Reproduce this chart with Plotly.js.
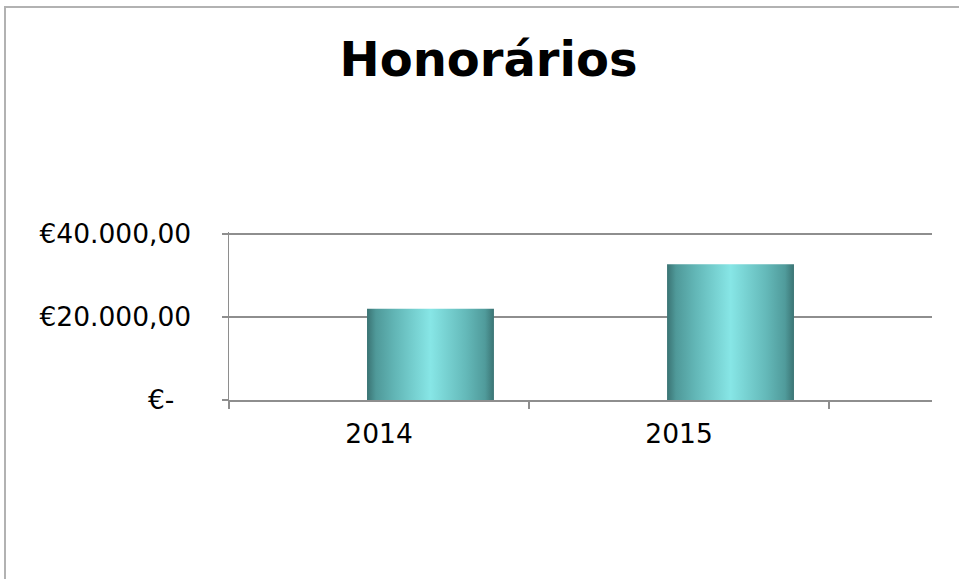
<!DOCTYPE html>
<html>
<head>
<meta charset="utf-8">
<script src="https://cdn.plot.ly/plotly-3.0.1.min.js"></script>
<style>
  html, body { margin: 0; padding: 0; background: #ffffff; overflow: hidden; }
  #wrap { position: relative; width: 959px; height: 579px; }
  #chart { position: absolute; left: 0; top: 0; width: 959px; height: 579px; }
  #frame { position: absolute; left: 4px; top: 6px; width: 1200px; height: 1200px;
           border-left: 2px solid #b2b2b2; border-top: 2px solid #b2b2b2; pointer-events: none; }
</style>
</head>
<body>
<div id="wrap">
  <div id="chart"></div>
  <div id="frame"></div>
</div>
<script>
// ---- data ----
const categories = ["2014", "2015"];
const honorarios = [22000, 32700];
const yTickValues = [0, 20000, 40000];
const yTickLabels = ["€-\u00a0\u00a0", "€20.000,00", "€40.000,00"];
const chartTitle = "Honorários";

const gridColor = "#8e8e8e";

const trace = {
  type: "bar",
  x: categories,
  y: honorarios,
  width: 0.423,
  offset: -0.04,
  marker: { color: "#62b8b8", line: { width: 0 } },
  hoverinfo: "skip"
};

const layout = {
  width: 959,
  height: 579,
  margin: { l: 229, r: 27, t: 232, b: 179 },
  paper_bgcolor: "#ffffff",
  plot_bgcolor: "#ffffff",
  showlegend: false,
  font: { family: "DejaVu Sans, Verdana, sans-serif", color: "#000000" },
  title: {
    text: "<b>" + chartTitle + "</b>",
    font: { family: "DejaVu Sans, Verdana, sans-serif", size: 48, color: "#000000" },
    xref: "container", x: 488.5 / 959, xanchor: "center",
    yref: "container", y: 1 - 59.5 / 579, yanchor: "middle"
  },
  xaxis: {
    type: "category",
    range: [-0.5, 1.843],
    showgrid: false,
    zeroline: false,
    showline: true,
    linecolor: gridColor,
    linewidth: 1.5,
    ticks: "outside",
    tickson: "boundaries",
    ticklen: 7,
    tickwidth: 1.2,
    tickcolor: gridColor,
    tickfont: { size: 26.5, color: "#000000" },
    ticklabelstandoff: 10,
    fixedrange: true
  },
  yaxis: {
    range: [0, 40480],
    tickvals: yTickValues,
    ticktext: yTickLabels,
    showgrid: true,
    gridcolor: gridColor,
    gridwidth: 1.5,
    zeroline: false,
    showline: true,
    linecolor: gridColor,
    linewidth: 1.5,
    ticks: "outside",
    ticklen: 6,
    tickwidth: 1.2,
    tickcolor: gridColor,
    tickfont: { size: 26.5, color: "#000000" },
    ticklabelstandoff: 25,
    fixedrange: true
  }
};

Plotly.newPlot("chart", [trace], layout, { staticPlot: true, displayModeBar: false }).then(function (gd) {
  const svg = gd.querySelector("svg.main-svg");
  const ns = "http://www.w3.org/2000/svg";
  let defs = svg.querySelector("defs");
  if (!defs) { defs = document.createElementNS(ns, "defs"); svg.insertBefore(defs, svg.firstChild); }
  const grad = document.createElementNS(ns, "linearGradient");
  grad.setAttribute("id", "barGrad");
  grad.setAttribute("x1", "0"); grad.setAttribute("y1", "0");
  grad.setAttribute("x2", "1"); grad.setAttribute("y2", "0");
  const stops = [
    [0, "#3a7373"], [0.07, "#4f9999"], [0.22, "#62b6b6"], [0.5, "#87e6e6"],
    [0.78, "#64b9b9"], [0.93, "#509b9b"], [1, "#3b7474"]
  ];
  stops.forEach(function (s) {
    const st = document.createElementNS(ns, "stop");
    st.setAttribute("offset", s[0]);
    st.setAttribute("stop-color", s[1]);
    grad.appendChild(st);
  });
  defs.appendChild(grad);
  gd.querySelectorAll(".barlayer .point path").forEach(function (p) {
    p.style.fill = "url(#barGrad)";
  });
});
</script>
</body>
</html>
